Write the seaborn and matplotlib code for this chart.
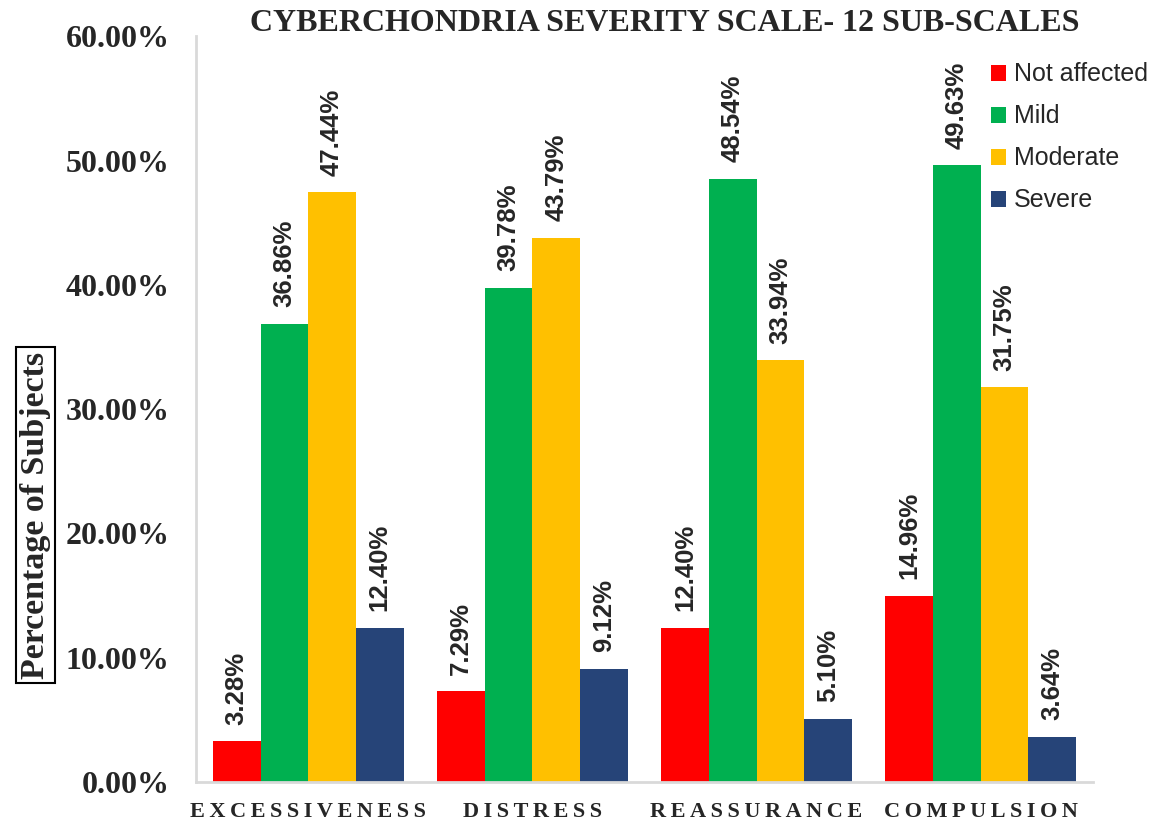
import pandas as pd
import numpy as np
import matplotlib.pyplot as plt
import seaborn as sns

# data
subscales = ['EXCESSIVENESS', 'DISTRESS', 'REASSURANCE', 'COMPULSION']
levels = ['Not affected', 'Mild', 'Moderate', 'Severe']
not_affected = [3.28, 7.29, 12.40, 14.96]
mild = [36.86, 39.78, 48.54, 49.63]
moderate = [47.44, 43.79, 33.94, 31.75]
severe = [12.40, 9.12, 5.10, 3.64]
colors = ['#FF0000', '#00B050', '#FFC000', '#264478']

df = pd.DataFrame({'Subscale': subscales * 4,
                   'Level': np.repeat(levels, 4),
                   'Percent': not_affected + mild + moderate + severe})

sns.set_style('white')
serif = ['Liberation Serif', 'DejaVu Serif']
sans = ['Liberation Sans', 'DejaVu Sans']

fig = plt.figure(figsize=(11.54, 8.25), dpi=100)
ax = fig.add_axes([0.170, 0.052, 0.777, 0.904])

sns.barplot(data=df, x='Subscale', y='Percent', hue='Level', order=subscales,
            hue_order=levels, palette=dict(zip(levels, colors)), width=0.85,
            saturation=1, linewidth=0, ax=ax)

for c in ax.containers:
    ax.bar_label(c, labels=['{:.2f}%'.format(v) for v in c.datavalues], rotation=90,
                 padding=12, fontsize=18.5, fontweight='bold', family=sans)

ax.set_ylim(0, 60)
ax.set_xlim(-0.5, 3.5)
ax.set_yticks(np.arange(0, 61, 10))
ax.set_yticklabels(['{:.2f}%'.format(v) for v in np.arange(0, 61, 10)],
                   fontsize=23, fontweight='bold', family=serif)
# letter-spaced category names
ax.set_xticks(range(len(subscales)))
ax.set_xticklabels(['\u2009'.join(s) for s in subscales], fontsize=16,
                   fontweight='bold', family=serif)
ax.tick_params(axis='y', length=0, pad=19)
ax.tick_params(axis='x', length=0, pad=14)
ax.set_xlabel('')
ax.set_ylabel('Percentage of Subjects', fontsize=24.5, fontweight='bold', family=serif,
              bbox=dict(boxstyle='square,pad=0.12', fc='white', ec='black', lw=1.5))
ax.yaxis.set_label_coords(-0.162, 0.358)

sns.despine(ax=ax, top=True, right=True)
for s in ['left', 'bottom']:
    ax.spines[s].set_color('#D9D9D9')
    ax.spines[s].set_linewidth(2)

handles, labels = ax.get_legend_handles_labels()
ax.legend(handles, labels, loc='upper left', bbox_to_anchor=(0.848, 0.9395),
          bbox_transform=fig.transFigure, frameon=False,
          handlelength=0.6, handleheight=0.6, handletextpad=0.3, labelspacing=0.72,
          borderpad=0, prop={'family': sans, 'size': 18})

fig.text(0.576, 0.972, 'CYBERCHONDRIA SEVERITY SCALE- 12 SUB-SCALES', ha='center', va='center',
         fontsize=23, fontweight='bold', family=serif)

plt.savefig('out.png', dpi=100)
